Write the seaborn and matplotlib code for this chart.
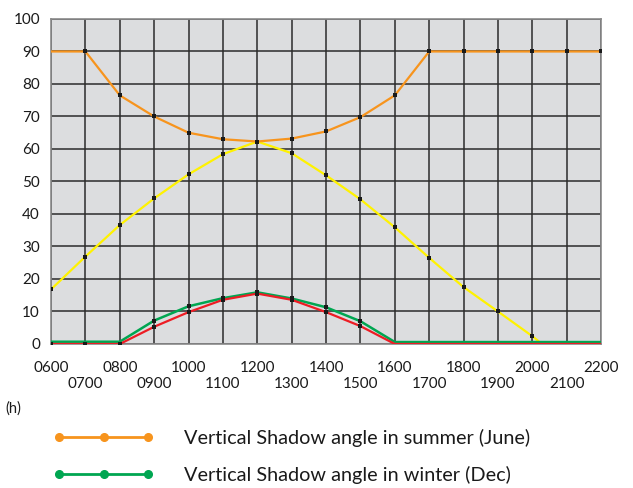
import matplotlib
matplotlib.use("Agg")
import matplotlib.pyplot as plt
import seaborn as sns
import pandas as pd
from matplotlib.lines import Line2D

# hours of the day (0600 .. 2200)
hours = list(range(6, 23))
hour_labels = ["%02d00" % h for h in hours]

# orange: vertical shadow angle, summer (June)
summer_vsa = [90, 90, 76.5, 70, 65, 63, 62.3, 63.2, 65.4, 69.8, 76.5, 90, 90, 90, 90, 90, 90]

# yellow: second summer series (reaches 0 shortly after 2000)
yellow_hours = [6, 7, 8, 9, 10, 11, 12, 13, 14, 15, 16, 17, 18, 19, 20, 20.28, 21, 22]
summer_yellow = [16.8, 26.9, 36.6, 44.8, 52.2, 58.4, 62.3, 58.7, 51.9, 44.5, 35.9, 26.5,
                 17.5, 10.0, 2.4, 0, 0, 0]

# green: vertical shadow angle, winter (Dec)
winter_vsa = [0.7, 0.7, 0.7, 7.2, 11.6, 14.1, 15.9, 14.0, 11.3, 7.0, 0.6, 0.6, 0.6, 0.6, 0.6, 0.6, 0.6]

# red: second winter series
winter_red = [0, 0, 0, 5.3, 9.8, 13.6, 15.5, 13.6, 9.8, 5.5, 0, 0, 0, 0, 0, 0, 0]

legend_labels = ["Vertical Shadow angle in summer (June)",
                 "Vertical Shadow angle in winter (Dec)"]

ORANGE = "#f7941d"
YELLOW = "#fff200"
GREEN = "#00a651"
RED = "#ed1c24"

sns.set_theme(style="whitegrid", rc={
    "axes.facecolor": "#dcdddf",
    "axes.edgecolor": "#8a8a8a",
    "grid.color": "#2b2b2b",
    "grid.linewidth": 1.1,
})
plt.rcParams["font.family"] = ["Lato", "DejaVu Sans"]

fig = plt.figure(figsize=(6.33, 4.88), dpi=100)
ax = fig.add_axes([0.0806, 0.2951, 0.869, 0.666])

df_s = pd.DataFrame({"hour": hours, "vsa": summer_vsa})
df_y = pd.DataFrame({"hour": yellow_hours, "val": summer_yellow})
df_w = pd.DataFrame({"hour": hours, "vsa": winter_vsa, "red": winter_red})

sns.lineplot(data=df_y, x="hour", y="val", color=YELLOW, lw=1.6, ax=ax, zorder=3)
sns.lineplot(data=df_s, x="hour", y="vsa", color=ORANGE, lw=1.6, ax=ax, zorder=3)
sns.lineplot(data=df_w, x="hour", y="vsa", color=GREEN, lw=1.8, ax=ax, zorder=3)
sns.lineplot(data=df_w, x="hour", y="red", color=RED, lw=1.6, ax=ax, zorder=4)

# small black point markers
mk = dict(marker="s", s=7, color="#1a1a1a", linewidth=0, ax=ax, zorder=5, legend=False)
sns.scatterplot(data=df_s[df_s.hour >= 7], x="hour", y="vsa", **mk)
sns.scatterplot(data=df_y[(df_y.hour <= 20) & (df_y.hour % 1 == 0)], x="hour", y="val", **mk)
sns.scatterplot(data=df_w[(df_w.hour >= 9) & (df_w.hour <= 15)], x="hour", y="vsa", **mk)
sns.scatterplot(data=df_w[df_w.hour <= 15], x="hour", y="red", **mk)

ax.set_xlim(6, 22)
ax.set_ylim(0, 100)
ax.set_yticks(range(0, 101, 10))
ax.set_xticks(hours)
ax.set_xticklabels([lab if i % 2 == 0 else "\n" + lab for i, lab in enumerate(hour_labels)])
ax.tick_params(axis="both", length=0, labelsize=11, colors="#1a1a1a")
ax.tick_params(axis="y", pad=8)
ax.tick_params(axis="x", pad=12)
ax.set_xlabel("")
ax.set_ylabel("")
for sp in ax.spines.values():
    sp.set_linewidth(1.2)

fig.text(0.008, 0.163, "(h)", fontsize=10.5, color="#1a1a1a", va="center")

handles = [Line2D([], [], color=ORANGE, lw=2, marker="o", markersize=5.5),
           Line2D([], [], color=GREEN, lw=2, marker="o", markersize=5.5)]
fig.legend(handles, legend_labels, loc="upper left", bbox_to_anchor=(0.0837, 0.121),
           frameon=False, numpoints=3, handlelength=5.1, handletextpad=1.5,
           borderpad=0, borderaxespad=0, labelspacing=0.95, fontsize=14.3,
           labelcolor="#1a1a1a")

fig.savefig("out.png", dpi=100)
